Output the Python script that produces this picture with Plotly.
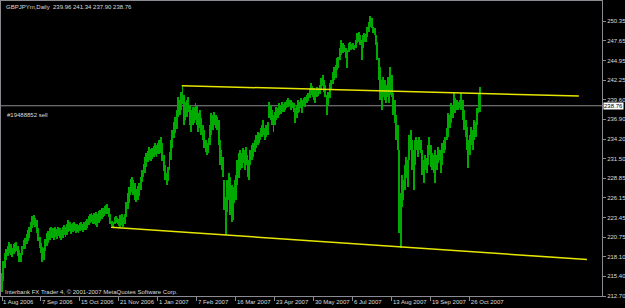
import plotly.graph_objects as go

# ---------------- data ----------------
symbol_title = "GBPJPYm,Daily"
last_ohlc = [239.96, 241.34, 237.90, 238.76]   # open, high, low, close of last bar
order_label = "#19488852 sell"
footer_text = "Interbank FX Trader 4, \u00a9 2001-2007 MetaQuotes Software Corp."

# daily highs / lows, one per trading day from 1 Aug 2006
highs = [
    215.8, 217.5, 218.6, 219.2, 219.6, 220.1, 219.8, 219.3, 219.8, 220.0,
    220.1, 219.6, 219.0, 218.6, 219.6, 220.4, 220.6, 221.2, 221.7, 222.1,
    222.9, 223.6, 223.8, 223.4, 223.1, 222.0, 220.8, 220.0, 219.4, 219.3,
    220.5, 221.3, 221.6, 222.0, 222.2, 222.0, 221.8, 222.1, 221.9, 222.2,
    222.0, 221.7, 222.1, 222.4, 222.2, 222.6, 223.1, 222.9, 222.5, 222.7,
    222.8, 222.5, 222.6, 222.4, 222.7, 222.9, 222.6, 222.8, 223.0, 223.3,
    223.7, 224.0, 224.1, 223.8, 224.1, 224.2, 223.9, 224.3, 224.5, 224.7,
    224.8, 225.0, 225.2, 225.3, 224.8, 223.9, 223.0, 222.9, 223.5, 223.6,
    223.4, 223.3, 223.8, 224.0, 223.5, 223.9, 225.6, 226.8, 227.6, 228.7,
    229.0, 228.6, 228.2, 227.4, 227.8, 228.2, 229.0, 230.0, 230.8, 231.7,
    232.3, 232.6, 233.1, 232.8, 233.0, 233.3, 233.7, 233.4, 233.6, 234.1,
    234.5, 233.6, 232.0, 230.6, 229.5, 230.4, 232.4, 234.1, 235.4, 236.5,
    237.2, 238.2, 239.9, 239.6, 240.6, 241.5, 240.2, 239.3, 239.6, 240.0,
    238.9, 238.2, 238.6, 238.6, 239.1, 238.7, 237.8, 238.2, 237.1, 236.1,
    235.4, 234.1, 233.7, 234.3, 236.1, 237.8, 237.5, 237.9, 237.5, 237.2,
    236.8, 234.1, 232.7, 231.7, 228.6, 226.3, 228.6, 229.6, 229.0, 227.9,
    227.6, 228.6, 229.3, 231.3, 232.3, 232.7, 232.3, 233.0, 232.7, 233.1,
    232.0, 231.3, 232.7, 233.4, 233.7, 234.1, 234.8, 235.2, 235.0, 235.7,
    236.1, 236.8, 235.7, 236.1, 236.5, 239.3, 238.9, 238.2, 237.5, 237.9,
    238.6, 238.5, 239.1, 238.9, 239.3, 239.0, 239.3, 239.6, 239.8, 239.6,
    239.6, 239.3, 239.1, 238.5, 238.9, 239.6, 239.3, 239.8, 239.6, 239.8,
    239.9, 240.2, 240.5, 241.2, 241.9, 241.5, 241.2, 240.9, 241.3, 241.2,
    241.6, 242.6, 243.0, 242.3, 241.6, 240.2, 240.6, 241.9, 242.3, 243.4,
    244.1, 244.3, 245.3, 245.4, 246.7, 247.8, 247.4, 247.1, 246.7, 246.4,
    247.4, 247.5, 247.2, 247.4, 247.1, 247.8, 248.7, 248.9, 248.5, 247.8,
    248.5, 248.7, 248.6, 249.6, 250.2, 251.1, 250.8, 249.6, 249.4, 248.5,
    247.5, 245.3, 244.1, 242.3, 242.7, 242.3, 241.6, 242.7, 242.3, 244.1,
    243.0, 240.5, 239.6, 237.5, 236.1, 232.7, 226.8, 229.3, 228.6, 230.6,
    231.7, 231.3, 234.8, 235.4, 234.1, 232.7, 234.1, 234.5, 234.1, 234.5,
    234.1, 232.7, 231.3, 232.0, 231.6, 233.4, 234.5, 233.4, 232.3, 232.0,
    232.7, 232.0, 233.1, 232.7, 232.7, 233.7, 234.1, 234.5, 235.7, 237.8,
    237.5, 239.1, 238.9, 240.5, 239.8, 239.6, 239.3, 239.6, 240.5, 239.6,
    238.2, 236.8, 235.8, 234.1, 234.8, 235.8, 235.4, 236.8, 236.5, 238.5,
    240.5, 241.34,
]
lows = [
    213.2, 214.8, 216.6, 217.6, 218.2, 218.6, 218.3, 218.0, 218.5, 218.7,
    218.9, 218.2, 217.4, 217.3, 218.3, 219.1, 219.2, 219.8, 220.2, 220.6,
    221.4, 222.0, 222.4, 222.1, 221.3, 220.3, 219.3, 218.6, 217.4, 217.6,
    218.9, 219.6, 220.0, 220.4, 220.6, 220.7, 220.4, 220.8, 220.5, 220.9,
    220.6, 220.4, 220.7, 221.0, 220.8, 221.1, 221.5, 221.6, 221.2, 221.4,
    221.6, 221.3, 221.5, 221.3, 221.6, 221.7, 221.5, 221.7, 221.8, 222.0,
    222.4, 222.7, 222.9, 222.6, 222.5, 222.4, 222.2, 222.7, 223.0, 223.3,
    223.5, 223.6, 223.9, 224.0, 223.5, 222.6, 222.3, 222.2, 222.6, 222.7,
    222.5, 222.3, 222.2, 222.4, 222.1, 222.5, 223.5, 224.6, 225.5, 226.6,
    227.0, 226.5, 225.8, 225.6, 225.9, 226.4, 227.2, 228.3, 229.0, 229.6,
    230.4, 231.0, 231.3, 231.2, 231.5, 231.7, 232.0, 231.8, 232.1, 232.2,
    232.3, 231.2, 229.8, 228.6, 227.9, 228.4, 229.9, 231.3, 233.0, 234.4,
    235.0, 235.6, 237.2, 237.5, 238.2, 239.0, 236.1, 236.8, 237.2, 237.9,
    236.1, 235.2, 236.1, 236.4, 236.8, 236.1, 235.2, 235.7, 234.8, 234.1,
    233.0, 232.4, 232.0, 232.3, 233.4, 234.8, 235.4, 236.1, 235.7, 235.4,
    233.4, 230.6, 229.9, 229.0, 224.5, 221.1, 224.2, 225.9, 223.8, 222.8,
    223.1, 225.4, 225.9, 227.9, 228.9, 229.9, 230.2, 230.9, 229.9, 230.6,
    229.0, 228.6, 230.6, 231.3, 231.7, 232.4, 233.0, 233.4, 233.7, 234.1,
    234.5, 234.8, 234.1, 234.5, 234.8, 237.1, 236.8, 236.1, 235.2, 236.1,
    236.8, 237.1, 237.5, 237.6, 237.9, 237.9, 238.2, 238.5, 238.6, 238.7,
    238.2, 238.5, 237.9, 236.4, 237.1, 237.8, 237.9, 238.5, 237.8, 238.9,
    238.6, 239.1, 239.4, 239.8, 240.2, 239.9, 239.6, 239.1, 239.9, 240.1,
    240.4, 240.9, 241.5, 240.6, 239.9, 237.5, 238.9, 239.8, 240.9, 241.7,
    242.3, 242.6, 243.7, 243.9, 245.0, 245.7, 246.0, 246.1, 245.3, 243.9,
    246.1, 246.4, 246.4, 246.5, 246.4, 246.7, 247.4, 247.5, 247.1, 245.0,
    246.7, 247.5, 247.5, 248.2, 248.9, 249.6, 249.4, 248.7, 248.5, 247.1,
    245.0, 242.3, 239.6, 238.2, 239.9, 239.6, 239.1, 239.9, 239.1, 240.2,
    239.9, 237.5, 236.4, 234.1, 232.7, 221.3, 219.3, 224.9, 225.9, 227.2,
    228.9, 227.6, 231.3, 232.7, 230.0, 227.2, 230.6, 232.7, 231.7, 232.7,
    232.3, 229.3, 228.2, 230.0, 229.6, 230.6, 232.0, 230.4, 230.0, 229.6,
    228.2, 230.0, 230.9, 231.3, 229.6, 230.6, 232.3, 232.7, 234.1, 234.5,
    235.7, 236.4, 237.1, 238.2, 237.8, 238.2, 238.2, 238.5, 238.2, 236.8,
    235.4, 234.5, 232.7, 230.2, 232.0, 233.4, 232.7, 234.1, 234.5, 236.1,
    237.8, 237.90,
]

# x-axis labels (every 27 bars)
label_idx = [0, 27, 54, 81, 108, 135, 162, 189, 216, 243, 270, 297, 324]
date_labels = ["1 Aug 2006", "7 Sep 2006", "15 Oct 2006", "21 Nov 2006", "1 Jan 2007",
               "7 Feb 2007", "16 Mar 2007", "23 Apr 2007", "30 May 2007", "6 Jul 2007",
               "13 Aug 2007", "19 Sep 2007", "26 Oct 2007"]

# y-axis price ticks
price_ticks = [212.70, 215.40, 218.10, 220.75, 223.45, 226.15, 228.85, 231.50,
               234.20, 236.90, 239.60, 242.25, 244.95, 247.65, 250.35]

# trendlines: (bar index, price) endpoints
upper_line_x = [124.5, 399.5]
upper_line_y = [241.50, 240.10]
lower_line_x = [75.5, 405.1]
lower_line_y = [222.11, 217.70]

# ---------------- figure ----------------
FONT = "Liberation Sans, Arial, sans-serif"
TXT = "#dcdcdc"
GRAY = "#8a8a90"

idx = list(range(len(highs)))
spans = [h - l for h, l in zip(highs, lows)]

fig = go.Figure()
fig.add_trace(go.Bar(
    x=idx, y=spans, base=lows, width=0.65,
    marker=dict(color="#00aa00", line=dict(width=0)),
    showlegend=False, hoverinfo="skip",
))
fig.add_trace(go.Scatter(x=upper_line_x, y=upper_line_y, mode="lines",
                         line=dict(color="#e6e600", width=1.5), showlegend=False, hoverinfo="skip"))
fig.add_trace(go.Scatter(x=lower_line_x, y=lower_line_y, mode="lines",
                         line=dict(color="#e6e600", width=1.5), showlegend=False, hoverinfo="skip"))

bid = last_ohlc[3]
fig.add_shape(type="line", xref="paper", x0=0, x1=1, yref="y", y0=bid, y1=bid,
              line=dict(color=GRAY, width=1), layer="below")

title_text = symbol_title + "  " + " ".join(f"{v:.2f}" for v in last_ohlc)

fig.update_layout(
    width=625, height=308,
    margin=dict(l=1, r=23, t=1, b=12, autoexpand=False),
    paper_bgcolor="#000000", plot_bgcolor="#000000",
    font=dict(family=FONT, size=6, color=TXT),
    bargap=0,
    xaxis=dict(
        range=[-0.69, 415.5], showgrid=False, zeroline=False, automargin=False,
        tickmode="array", tickvals=label_idx, ticktext=date_labels, tickangle=0,
        ticks="outside", ticklen=4, tickcolor=GRAY, ticklabelposition="outside right",
        showline=True, linecolor=GRAY, linewidth=1, mirror=True,
        tickfont=dict(family=FONT, size=6, color=TXT),
    ),
    yaxis=dict(
        range=[212.70, 253.11], side="right", showgrid=False, zeroline=False, automargin=False,
        tickmode="array", tickvals=price_ticks, ticktext=[f"{v:.2f}" for v in price_ticks],
        ticks="outside", ticklen=3, tickcolor=GRAY,
        showline=True, linecolor=GRAY, linewidth=1, mirror=True,
        tickfont=dict(family=FONT, size=6, color=TXT),
    ),
    annotations=[
        dict(xref="paper", yref="paper", x=0.005, y=0.98, xanchor="left", yanchor="middle",
             text=title_text, showarrow=False, font=dict(family=FONT, size=6, color=TXT)),
        dict(xref="paper", yref="y", x=0.007, y=237.55, xanchor="left", yanchor="middle",
             text=order_label, showarrow=False, font=dict(family=FONT, size=6, color=TXT)),
        dict(xref="paper", yref="paper", x=0.003, y=0.014, xanchor="left", yanchor="middle",
             text=footer_text, showarrow=False, font=dict(family=FONT, size=6, color=TXT)),
        dict(xref="paper", yref="y", x=1, y=bid, xanchor="left", yanchor="middle", xshift=1,
             text=f"{bid:.2f}", showarrow=False, bgcolor="#ffffff", borderpad=0,
             font=dict(family=FONT, size=6, color="#000000")),
    ],
)

fig.write_html("out.html")
